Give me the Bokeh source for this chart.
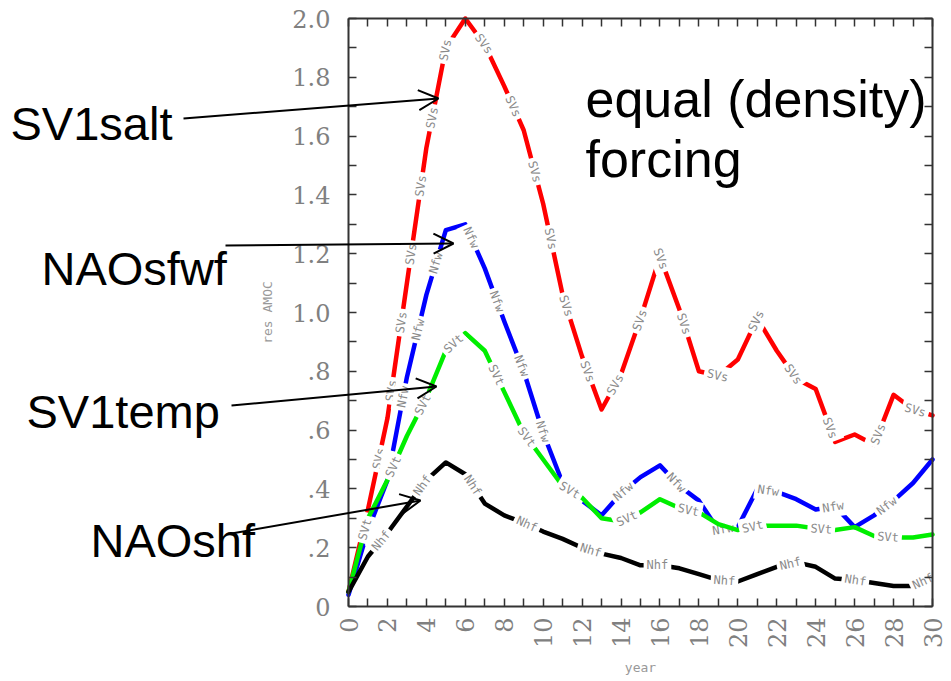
import math
import numpy as np
from bokeh.plotting import figure
from bokeh.models import (Range1d, LinearAxis, FixedTicker, CustomJSTickFormatter,
                          Label, Arrow, OpenHead, ColumnDataSource)
from bokeh.core.properties import value
from bokeh.embed import file_html
from bokeh.resources import INLINE

# ---------------- data ----------------
years = list(range(31))
sv1salt = [0.05, 0.33, 0.64, 1.10, 1.56, 1.90, 2.00, 1.91, 1.77, 1.62, 1.37, 1.06,
           0.85, 0.67, 0.79, 0.98, 1.19, 1.01, 0.80, 0.785, 0.84, 0.98, 0.87, 0.775,
           0.74, 0.56, 0.585, 0.55, 0.72, 0.67, 0.65]
naosfwf = [0.04, 0.26, 0.43, 0.78, 1.06, 1.28, 1.30, 1.15, 0.97, 0.80, 0.59, 0.42,
           0.36, 0.31, 0.385, 0.44, 0.48, 0.41, 0.36, 0.26, 0.27, 0.40, 0.39, 0.365,
           0.33, 0.34, 0.27, 0.31, 0.36, 0.42, 0.50]
sv1temp = [0.05, 0.30, 0.43, 0.58, 0.71, 0.87, 0.93, 0.87, 0.73, 0.59, 0.50, 0.41,
           0.37, 0.30, 0.29, 0.32, 0.365, 0.335, 0.32, 0.28, 0.26, 0.275, 0.275, 0.275,
           0.265, 0.26, 0.27, 0.24, 0.235, 0.235, 0.245]
naoshf = [0.05, 0.17, 0.25, 0.34, 0.43, 0.49, 0.45, 0.35, 0.31, 0.285, 0.255, 0.23,
          0.20, 0.18, 0.165, 0.14, 0.14, 0.13, 0.11, 0.09, 0.085, 0.11, 0.135, 0.15,
          0.135, 0.095, 0.09, 0.08, 0.07, 0.07, 0.10]

line_tags = ["SVs", "Nfw", "SVt", "Nhf"]
line_colors = ["#ff0000", "#0000ff", "#00ee00", "#000000"]
tag_anchor_years = [4.3, 6.3, 5.4, 3.8]

x_ticks = list(range(0, 31, 2))
x_minor = list(range(1, 30, 2))
y_ticks = [0, 0.2, 0.4, 0.6, 0.8, 1.0, 1.2, 1.4, 1.6, 1.8, 2.0]
y_minor = [0.1, 0.3, 0.5, 0.7, 0.9, 1.1, 1.3, 1.5, 1.7, 1.9]

callouts = ["SV1salt", "NAOsfwf", "SV1temp", "NAOshf"]
titles = ["equal (density)", "forcing"]

# ---------------- geometry ----------------
OFF = 2                      # observed page offset of the canvas
W, H = 947, 677
X0, X1, Y0, Y1 = 0, 30, 0, 2.0
LEFT, RIGHT, TOP, BOTTOM = 350 - OFF, 932, 20 - OFF, 608 - OFF
SX = (RIGHT - LEFT) / (X1 - X0)
SY = (BOTTOM - TOP) / (Y1 - Y0)
xr = Range1d(X0 - LEFT / SX, X1 + (W - RIGHT) / SX)
yr = Range1d(Y0 - (H - BOTTOM) / SY, Y1 + TOP / SY)

p = figure(width=W, height=H, x_range=xr, y_range=yr,
           x_axis_location=None, y_axis_location=None,
           output_backend="svg", toolbar_location=None,
           min_border=0, min_border_left=0, min_border_right=0,
           min_border_top=0, min_border_bottom=0)
p.outline_line_color = None
p.grid.visible = False
p.background_fill_color = "white"

AX_COL = "#333333"
TICK_FONT = "DejaVu Serif"

def style_axis(ax):
    ax.major_tick_in = 8
    ax.major_tick_out = 0
    ax.minor_tick_in = 8
    ax.minor_tick_out = 0
    ax.axis_line_color = AX_COL
    ax.axis_line_width = 2
    ax.major_tick_line_color = AX_COL
    ax.minor_tick_line_color = AX_COL
    ax.major_tick_line_width = 1.5
    ax.minor_tick_line_width = 1.5

xa = LinearAxis(fixed_location=Y0, bounds=(X0, X1),
                ticker=FixedTicker(ticks=x_ticks, minor_ticks=x_minor))
style_axis(xa)
xa.major_label_orientation = math.pi / 2
xa.major_label_text_font = TICK_FONT
xa.major_label_text_font_size = "24px"
xa.major_label_text_color = "#808080"
xa.major_label_standoff = 11
xa.axis_label = "year"
xa.axis_label_text_font = "DejaVu Sans Mono"
xa.axis_label_text_font_size = "13px"
xa.axis_label_text_font_style = "normal"
xa.axis_label_text_color = "#999999"
xa.axis_label_standoff = 9
p.add_layout(xa, "below")

ya = LinearAxis(fixed_location=X0, bounds=(Y0, Y1),
                ticker=FixedTicker(ticks=y_ticks, minor_ticks=y_minor))
style_axis(ya)
ya.formatter = CustomJSTickFormatter(code="""
    if (Math.abs(tick) < 1e-9) { return "0"; }
    return tick.toFixed(1).replace(/^0/, "");
""")
ya.major_label_text_font = TICK_FONT
ya.major_label_text_font_size = "24px"
ya.major_label_text_color = "#808080"
ya.major_label_standoff = 18
ya.axis_label = "res AMOC"
ya.axis_label_text_font = "DejaVu Sans Mono"
ya.axis_label_text_font_size = "13px"
ya.axis_label_text_font_style = "normal"
ya.axis_label_text_color = "#999999"
ya.axis_label_standoff = 14
p.add_layout(ya, "left")

blank = CustomJSTickFormatter(code='return "";')
top = LinearAxis(fixed_location=Y1, bounds=(X0, X1),
                 ticker=FixedTicker(ticks=x_ticks, minor_ticks=x_minor),
                 formatter=blank, major_label_text_color=None)
style_axis(top)
p.add_layout(top, "above")
right = LinearAxis(fixed_location=X1, bounds=(Y0, Y1),
                   ticker=FixedTicker(ticks=y_ticks, minor_ticks=y_minor),
                   formatter=blank, major_label_text_color=None)
style_axis(right)
p.add_layout(right, "right")

# ---------------- lines with Ferret-style inline labels ----------------
def tag_positions(xs, ys, anchor_year, spacing=69.0):
    px = np.asarray(xs, float) * SX
    py = np.asarray(ys, float) * SY
    seg = np.hypot(np.diff(px), np.diff(py))
    cum = np.concatenate([[0.0], np.cumsum(seg)])
    i = min(int(math.floor(anchor_year)), len(xs) - 2)
    f = anchor_year - xs[i]
    s_anchor = cum[i] + f * seg[i]
    s = s_anchor % spacing
    out_x, out_y, out_a = [], [], []
    while s < cum[-1] - 6:
        if s >= 4:
            j = int(np.searchsorted(cum, s, side="right") - 1)
            j = min(j, len(seg) - 1)
            t = (s - cum[j]) / seg[j]
            out_x.append(xs[j] + t * (xs[j + 1] - xs[j]))
            out_y.append(ys[j] + t * (ys[j + 1] - ys[j]))
            out_a.append(math.atan2(py[j + 1] - py[j], px[j + 1] - px[j]))
        s += spacing
    return out_x, out_y, out_a

all_series = [sv1salt, naosfwf, sv1temp, naoshf]
for vals, tag, col, anc in zip(all_series, line_tags, line_colors, tag_anchor_years):
    p.line(years, vals, line_color=col, line_width=4.5, line_join="round", line_cap="round")
    tx, ty, ta = tag_positions(years, vals, anc)
    src = ColumnDataSource(dict(x=tx, y=ty, angle=ta, text=[tag] * len(tx)))
    p.text(x="x", y="y", text="text", angle="angle", source=src,
           text_font=value("DejaVu Sans Mono"), text_font_size=value("12px"),
           text_color="#8a8a8a", text_align="center", text_baseline="middle",
           background_fill_color="white", padding=3)

# ---------------- annotations (positions given in reference pixels) ----------------
def dx(px_):
    return (px_ - OFF - LEFT) / SX

def dy(py_):
    return (BOTTOM - (py_ - OFF)) / SY

label_pos = [(12, 125), (43, 270), (28, 413), (92, 542)]
for txt, (lx, ly) in zip(callouts, label_pos):
    p.add_layout(Label(x=dx(lx), y=dy(ly), text=txt, text_font="Liberation Sans",
                       text_font_size="47px", text_color="black",
                       text_align="left", text_baseline="alphabetic"))

for txt, (lx, ly) in zip(titles, [(587, 100), (587, 160)]):
    p.add_layout(Label(x=dx(lx), y=dy(ly), text=txt, text_font="Liberation Sans",
                       text_font_size="52px", text_color="black",
                       text_align="left", text_baseline="alphabetic"))

arrows = [((185, 120), (440, 100)),
          ((227, 247), (455, 245)),
          ((233, 407), (438, 388)),
          ((233, 535), (422, 502))]
for (sx, sy), (ex, ey) in arrows:
    p.add_layout(Arrow(end=OpenHead(size=20, line_width=2, line_color="black"),
                       x_start=dx(sx), y_start=dy(sy), x_end=dx(ex), y_end=dy(ey),
                       line_width=2, line_color="black"))

open("out.html", "w").write(file_html(p, INLINE))
